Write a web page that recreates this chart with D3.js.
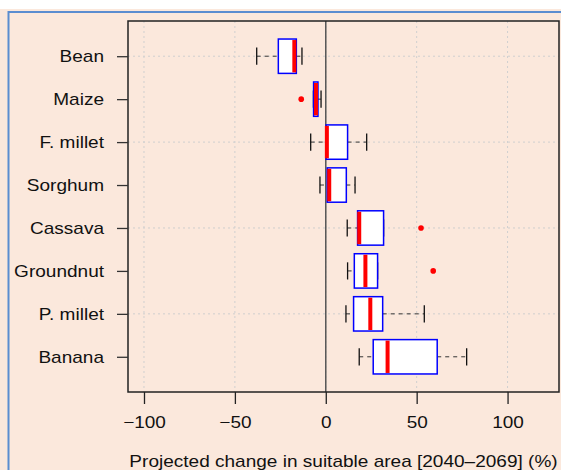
<!DOCTYPE html>
<html>
<head>
<meta charset="utf-8">
<script src="https://cdn.jsdelivr.net/npm/d3@7"></script>
<style>
	body { margin: 0; background: #fff; }
	text { font-family: 'Liberation Sans', Arial, sans-serif; fill: #111; }
</style>
</head>
<body>
<svg id="chart" width="561" height="470"></svg>
<script>
// values (% change in suitable area)
var crops = ['Bean', 'Maize', 'F. millet', 'Sorghum', 'Cassava', 'Groundnut', 'P. millet', 'Banana']
var lowWhisker = [-38, -6.8, -8.3, -3.2, 11.8, 12.0, 11.1, 18.4]
var q1 = [-26.1, -6.7, 0.2, 0.8, 17.5, 15.7, 15.3, 26.1]
var median = [-17.3, -5.4, 0.6, 1.9, 18.4, 21.8, 24.5, 34.0]
var q3 = [-16.2, -4.3, 12.0, 11.3, 31.8, 28.5, 31.3, 61.3]
var highWhisker = [-13.1, -2.6, 22.5, 16.1, 31.8, 28.5, 54.2, 77.5]
var outliers = [[], [-13.5], [], [], [52.4], [59.1], [], []]
var xTicks = [-100, -50, 0, 50, 100]
var xTitle = 'Projected change in suitable area [2040\u20132069] (%)'

var n = crops.length
var stretch = 1.12

var svg = d3.select('#chart')

svg.append('rect')
	.attr('x', 0).attr('y', 9)
	.attr('width', 561).attr('height', 461)
	.attr('fill', '#fbe8dc')

// blue frame
svg.append('path')
	.attr('d', 'M8.5,470V12H561')
	.attr('fill', 'none')
	.attr('stroke', '#5b8dd0')
	.attr('stroke-width', 2)

var pLeft = 128, pRight = 559, pTop = 21, pBottom = 392

var x = d3.scaleLinear().domain([-108.8, 128.3]).range([pLeft, pRight])
var y = d3.scaleLinear().domain([0.18, n + 0.82]).range([pBottom, pTop])
var pos = function(i) { return n - i }
var half = 0.4 * (y(0) - y(1))

// grid
svg.append('g').selectAll('line')
	.data(xTicks)
	.enter().append('line')
	.attr('x1', d => x(d)).attr('x2', d => x(d))
	.attr('y1', pTop).attr('y2', pBottom)
	.attr('stroke', '#cfcfcf')
	.attr('stroke-dasharray', '2,3')

svg.append('g').selectAll('line')
	.data([2, 4, 6, 8])
	.enter().append('line')
	.attr('x1', pLeft).attr('x2', pRight)
	.attr('y1', d => y(d)).attr('y2', d => y(d))
	.attr('stroke', '#cfcfcf')
	.attr('stroke-dasharray', '2,3')

// zero line
svg.append('line')
	.attr('x1', x(0)).attr('x2', x(0))
	.attr('y1', pTop).attr('y2', pBottom)
	.attr('stroke', '#555')
	.attr('stroke-width', 1.5)

var box = svg.selectAll('.box')
	.data(crops)
	.enter().append('g')
	.attr('class', 'box')
	.attr('transform', (d, i) => 'translate(0,' + y(pos(i)) + ')')

// whiskers
box.append('line')
	.attr('x1', (d, i) => x(lowWhisker[i])).attr('x2', (d, i) => x(q1[i]))
	.attr('stroke', '#333').attr('stroke-dasharray', '4,4')
box.append('line')
	.attr('x1', (d, i) => x(q3[i])).attr('x2', (d, i) => x(highWhisker[i]))
	.attr('stroke', '#333').attr('stroke-dasharray', '4,4')

box.append('line')
	.attr('x1', (d, i) => x(lowWhisker[i])).attr('x2', (d, i) => x(lowWhisker[i]))
	.attr('y1', -half / 2).attr('y2', half / 2)
	.attr('stroke', '#111').attr('stroke-width', 1.3)
box.append('line')
	.attr('x1', (d, i) => x(highWhisker[i])).attr('x2', (d, i) => x(highWhisker[i]))
	.attr('y1', -half / 2).attr('y2', half / 2)
	.attr('stroke', '#111').attr('stroke-width', 1.3)

box.append('rect')
	.attr('x', (d, i) => x(q1[i]))
	.attr('width', (d, i) => x(q3[i]) - x(q1[i]))
	.attr('y', -half)
	.attr('height', 2 * half)
	.attr('fill', '#fff')
	.attr('stroke', '#0000ff')
	.attr('stroke-width', 1.5)

box.append('line')
	.attr('x1', (d, i) => x(median[i])).attr('x2', (d, i) => x(median[i]))
	.attr('y1', -half + 1).attr('y2', half - 1)
	.attr('stroke', '#ff0000')
	.attr('stroke-width', 4)

box.selectAll('.out')
	.data((d, i) => outliers[i])
	.enter().append('circle')
	.attr('class', 'out')
	.attr('cx', d => x(d))
	.attr('r', 2.8)
	.attr('fill', '#ff0000')

// plot frame
svg.append('rect')
	.attr('x', pLeft).attr('y', pTop)
	.attr('width', pRight - pLeft).attr('height', pBottom - pTop)
	.attr('fill', 'none')
	.attr('stroke', '#222')
	.attr('stroke-width', 1.5)

// axes
var xAxis = svg.append('g')
	.attr('transform', 'translate(0,' + pBottom + ')')
	.call(d3.axisBottom(x).tickValues(xTicks).tickSize(12).tickPadding(12))
xAxis.select('.domain').remove()
xAxis.selectAll('line').attr('stroke', '#222').attr('stroke-width', 1.3)
xAxis.selectAll('text')
	.attr('font-size', 16.5)
	.attr('transform', 'scale(1.15,1)')

var yAxis = svg.append('g')
	.attr('transform', 'translate(' + pLeft + ',0)')
	.call(d3.axisLeft(y)
		.tickValues(crops.map((d, i) => pos(i)))
		.tickFormat(d => crops[n - d])
		.tickSize(11).tickPadding(13))
yAxis.select('.domain').remove()
yAxis.selectAll('line').attr('stroke', '#333').attr('stroke-width', 1.3)
yAxis.selectAll('text')
	.attr('font-size', 17)
	.attr('x', -24 / stretch)
	.attr('transform', 'scale(' + stretch + ',1)')

svg.append('text')
	.attr('transform', 'translate(' + ((pLeft + pRight) / 2) + ',467) scale(' + stretch + ',1)')
	.attr('text-anchor', 'middle')
	.attr('font-size', 17)
	.text(xTitle)
</script>
</body>
</html>
